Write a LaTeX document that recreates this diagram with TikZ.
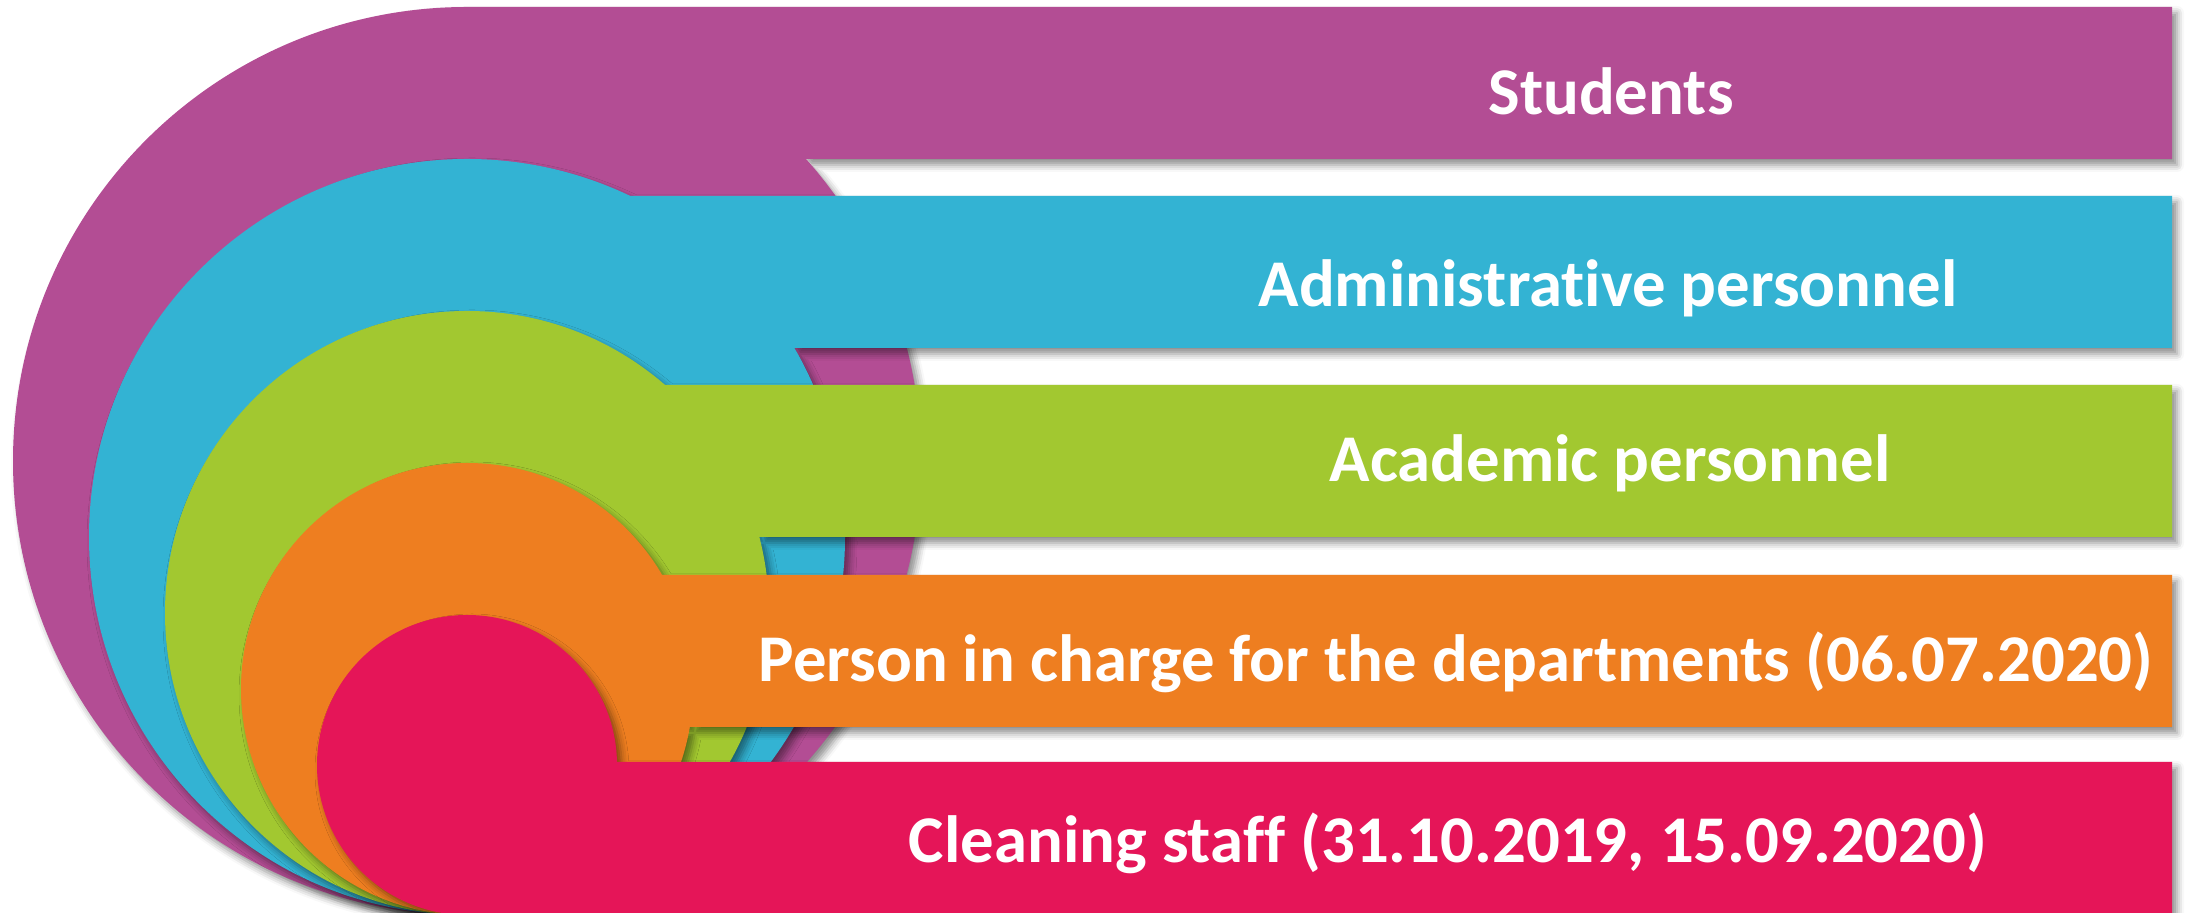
\documentclass[tikz,border=0pt]{standalone}
\usepackage{fontspec}
\setmainfont{Carlito}[Ligatures=CommonOff]
\usetikzlibrary{shadows.blur}
\definecolor{bandPurple}{RGB}{179,77,148}
\definecolor{bandBlue}{RGB}{51,179,211}
\definecolor{bandGreen}{RGB}{162,200,48}
\definecolor{bandOrange}{RGB}{238,126,32}
\definecolor{bandRed}{RGB}{229,21,88}

\begin{document}
\begin{tikzpicture}[
    band/.style={blur shadow={shadow xshift=0.5mm, shadow yshift=-0.6mm,
                 shadow blur radius=0.7mm, shadow opacity=45}},
    bandtext/.style={anchor=base, text=white, inner sep=0pt,
                 font=\fontsize{19}{19}\selectfont\bfseries}
  ]
  \useasboundingbox (0,0) rectangle (21.88,9.13);
  \clip (0,0) rectangle (21.88,9.13);

  % circle + bar, back to front
  \fill[band, bandPurple] (4.67,4.52) circle[radius=4.54] (4.67,9.06) rectangle (21.72,7.54);
  \fill[band, bandBlue]   (4.67,3.76) circle[radius=3.78] (4.67,7.17) rectangle (21.72,5.65);
  \fill[band, bandGreen]  (4.67,3.00) circle[radius=3.02] (4.67,5.28) rectangle (21.72,3.76);
  \fill[band, bandOrange] (4.67,2.24) circle[radius=2.26] (4.67,3.38) rectangle (21.72,1.86);
  \fill[band, bandRed]    (4.67,1.48) circle[radius=1.50] (4.67,1.51) rectangle (21.72,-0.01);

  \node[bandtext] (students) at (16.11,7.98) {Students};
  \node[bandtext] (admin)    at (16.08,6.06) {Administrative personnel};
  \node[bandtext] (academic) at (16.10,4.31) {Academic personnel};
  \node[bandtext] (heads)    at (14.56,2.31) {Person in charge for the departments (06.07.2020)};
  \node[bandtext] (cleaning) at (14.48,0.50) {Cleaning staff (31.10.2019, 15.09.2020)};
\end{tikzpicture}
\end{document}
